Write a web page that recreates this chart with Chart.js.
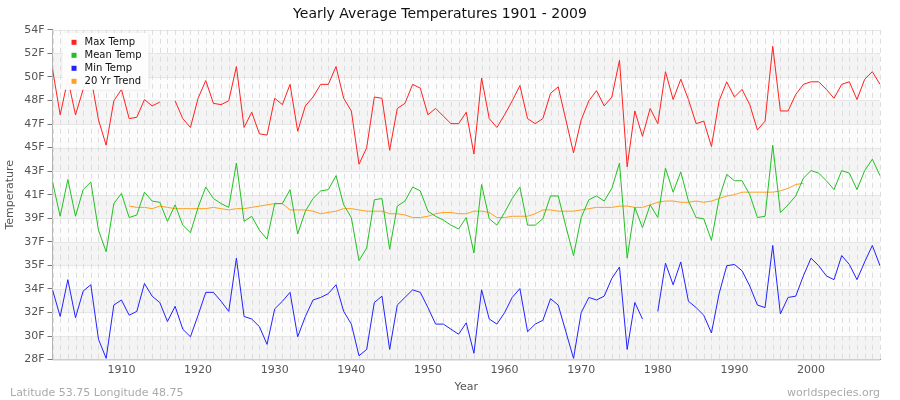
<!DOCTYPE html>
<html>
<head>
<meta charset="utf-8">
<script src="https://cdn.jsdelivr.net/npm/chart.js@4"></script>
<style>
  body { margin: 0; background: #fff; }
  #wrap { width: 900px; height: 400px; position: relative; }
</style>
</head>
<body>
<div id="wrap"><canvas id="c" width="900" height="400"></canvas></div>
<script>
// data (F), 1901 - 2009
const years = [];
for (let y = 1901; y <= 2009; y++) years.push(y);

const maxTemp = [50.9,47.3,50.1,47.3,49.3,50.3,46.9,44.9,48.4,49.3,47.0,47.1,48.5,48.0,48.3,null,48.4,47.0,46.3,48.6,
  50.0,48.2,48.1,48.4,51.1,46.3,47.5,45.8,45.7,48.6,48.1,49.7,46.0,48.0,48.7,49.7,49.7,51.1,48.6,47.6,
  43.4,44.7,48.7,48.6,44.5,47.8,48.2,49.7,49.4,47.3,47.8,47.2,46.6,46.6,47.5,44.2,50.2,47.0,46.3,47.3,
  48.4,49.6,47.0,46.6,47.0,49.0,49.5,46.9,44.3,46.9,48.4,49.2,48.0,48.7,51.6,43.2,47.6,45.6,47.8,46.6,
  50.7,48.5,50.1,48.5,46.6,46.8,44.8,48.4,49.9,48.7,49.3,48.1,46.1,46.8,52.7,47.6,47.6,48.9,49.7,49.9,
  49.9,49.3,48.6,49.7,49.9,48.5,50.1,50.7,49.7];
const meanTemp = [42.0,39.3,42.2,39.3,41.4,42.0,38.2,36.5,40.3,41.1,39.2,39.4,41.2,40.5,40.4,38.9,40.2,38.6,38.0,40.0,
  41.6,40.7,40.3,40.0,43.5,38.9,39.3,38.2,37.5,40.3,40.3,41.4,37.9,39.7,40.7,41.3,41.4,42.5,40.2,39.2,
  35.8,36.8,40.6,40.7,36.7,40.1,40.5,41.6,41.3,39.7,39.3,39.0,38.6,38.3,39.2,36.4,41.8,39.1,38.6,39.6,
  40.7,41.6,38.6,38.6,39.1,40.9,40.9,38.5,36.2,39.2,40.6,40.9,40.5,41.5,43.5,36.0,40.0,38.4,40.2,39.2,
  43.1,41.2,42.8,40.5,39.2,39.1,37.4,40.7,42.6,42.1,42.1,41.0,39.2,39.3,44.9,39.6,40.2,40.9,42.3,42.9,
  42.7,42.1,41.4,42.9,42.7,41.4,42.9,43.8,42.5];
const minTemp = [33.5,31.4,34.3,31.3,33.4,33.9,29.6,28.1,32.3,32.7,31.5,31.8,34.0,33.0,32.5,31.0,32.2,30.4,29.8,31.5,
  33.3,33.3,32.6,31.8,36.0,31.4,31.2,30.6,29.2,32.0,32.6,33.3,29.8,31.4,32.7,32.9,33.2,33.9,31.8,30.8,
  28.3,28.8,32.5,33.0,28.8,32.3,32.9,33.5,33.3,32.1,30.8,30.8,30.4,30.0,30.9,28.5,33.5,31.2,30.8,31.7,
  32.9,33.6,30.2,30.8,31.1,32.8,32.3,30.2,28.1,31.7,32.9,32.7,33.0,34.4,35.3,28.8,32.5,31.2,null,31.8,
  35.6,33.9,35.7,32.6,32.1,31.5,30.1,33.2,35.4,35.5,35.0,33.8,32.3,32.1,37.0,31.6,32.9,33.0,34.6,36.0,
  35.4,34.6,34.3,36.2,35.5,34.3,35.7,37.0,35.4];
const trend = [null,null,null,null,null,null,null,null,null,null,
  40.1,40.0,40.0,39.9,40.1,40.0,39.9,39.9,39.9,39.9,39.9,40.0,39.9,39.8,39.9,39.9,40.0,40.1,40.2,40.3,
  40.3,39.8,39.8,39.8,39.7,39.5,39.6,39.7,39.9,39.9,39.8,39.7,39.7,39.7,39.5,39.5,39.4,39.2,39.2,39.3,
  39.5,39.6,39.6,39.5,39.5,39.7,39.7,39.6,39.2,39.2,39.3,39.3,39.3,39.5,39.8,39.8,39.7,39.7,39.7,39.8,
  39.9,40.0,40.0,40.0,40.1,40.1,40.0,40.0,40.2,40.4,40.5,40.5,40.4,40.4,40.5,40.4,40.5,40.7,40.9,41.0,
  41.2,41.2,41.2,41.2,41.2,41.3,41.5,41.8,41.9,null,null,null,null,null,null,null,null,null,null,null];
const xTicks = [1910, 1920, 1930, 1940, 1950, 1960, 1970, 1980, 1990, 2000];

const yMin = 28, yMax = 54, yStep = 26 / 14;

const seriesNames = ['Max Temp', 'Mean Temp', 'Min Temp', '20 Yr Trend'];
const seriesColors = ['#ff2020', '#22c022', '#2222ff', '#ffa020'];

function pts(arr) { return arr.map((v, i) => ({ x: years[i], y: v })); }

// bands, dashed year lines, bottom notes, legend box
const extras = {
  id: 'extras',
  beforeDatasetsDraw(chart) {
    const { ctx, chartArea: a, scales: { x, y } } = chart;
    ctx.save();
    for (let k = 0; k < 14; k++) {
      const top = y.getPixelForValue(yMin + (k + 1) * yStep);
      const bot = y.getPixelForValue(yMin + k * yStep);
      ctx.fillStyle = k % 2 === 0 ? '#f4f4f4' : '#fcfcfc';
      ctx.fillRect(a.left, top, a.right - a.left, bot - top);
    }
    ctx.strokeStyle = '#e6e6e6';
    ctx.lineWidth = 1;
    for (let k = 0; k <= 14; k++) {
      const py = Math.round(y.getPixelForValue(yMin + k * yStep)) + 0.5;
      ctx.beginPath(); ctx.moveTo(a.left, py); ctx.lineTo(a.right, py); ctx.stroke();
    }
    ctx.strokeStyle = '#dddddd';
    ctx.setLineDash([5, 4]);
    years.forEach(yr => {
      const px = Math.round(x.getPixelForValue(yr)) + 0.5;
      ctx.beginPath(); ctx.moveTo(px, a.top); ctx.lineTo(px, a.bottom); ctx.stroke();
    });
    ctx.restore();
  },
  afterDraw(chart) {
    const { ctx, chartArea: a } = chart;
    ctx.save();
    ctx.font = '11px "DejaVu Sans", sans-serif';
    ctx.fillStyle = '#aaaaaa';
    ctx.textBaseline = 'alphabetic';
    ctx.textAlign = 'left';
    ctx.fillText('Latitude 53.75 Longitude 48.75', 10, 396);
    ctx.textAlign = 'right';
    ctx.fillText('worldspecies.org', 880, 396);
    // legend
    const lx = a.left + 10, ly = a.top + 3;
    ctx.fillStyle = 'rgba(255,255,255,0.95)';
    ctx.shadowColor = 'rgba(0,0,0,0.15)';
    ctx.shadowBlur = 3;
    ctx.fillRect(lx, ly, 86, 57);
    ctx.shadowBlur = 0;
    ctx.font = '10px "DejaVu Sans", sans-serif';
    ctx.textAlign = 'left';
    ctx.textBaseline = 'middle';
    seriesNames.forEach((n, i) => {
      const cy = ly + 10 + i * 13;
      ctx.fillStyle = seriesColors[i];
      ctx.fillRect(lx + 9, cy - 3, 5, 5);
      ctx.fillStyle = '#111';
      ctx.fillText(n, lx + 22, cy);
    });
    ctx.restore();
  }
};

new Chart(document.getElementById('c'), {
  type: 'line',
  data: {
    datasets: [maxTemp, meanTemp, minTemp, trend].map((d, i) => ({
      label: seriesNames[i], data: pts(d), borderColor: seriesColors[i], backgroundColor: seriesColors[i],
      borderWidth: 1, pointRadius: 0, tension: 0, spanGaps: false
    }))
  },
  options: {
    responsive: false, animation: false,
    layout: { padding: { left: 0, right: 20, top: 0, bottom: 6 } },
    plugins: {
      legend: { display: false },
      tooltip: { enabled: false },
      title: { display: true, text: 'Yearly Average Temperatures 1901 - 2009', color: '#111',
        font: { family: '"DejaVu Sans", sans-serif', size: 14, weight: 'normal' }, padding: { top: 6, bottom: 7 } }
    },
    scales: {
      x: {
        type: 'linear', min: 1901, max: 2009,
        title: { display: true, text: 'Year', color: '#555', font: { family: '"DejaVu Sans", sans-serif', size: 11 }, padding: 0 },
        ticks: { maxRotation: 0, color: '#555', padding: 4,
          font: { family: '"DejaVu Sans", sans-serif', size: 11 },
          callback: v => String(v) },
        afterBuildTicks: axis => { axis.ticks = xTicks.map(v => ({ value: v })); },
        grid: { drawOnChartArea: false, drawTicks: false },
        border: { display: true, color: '#999' }
      },
      y: {
        min: yMin, max: yMax,
        title: { display: true, text: 'Temperature', color: '#555', font: { family: '"DejaVu Sans", sans-serif', size: 11 } },
        afterBuildTicks: axis => { axis.ticks = Array.from({ length: 15 }, (_, k) => ({ value: yMin + k * yStep })); },
        ticks: { color: '#555', font: { family: '"DejaVu Sans", sans-serif', size: 11 },
          callback: v => Math.round(v) + 'F' },
        grid: { drawOnChartArea: false, tickLength: 5, tickColor: '#777' },
        border: { color: '#777' }
      }
    }
  },
  plugins: [extras]
});
</script>
</body>
</html>
